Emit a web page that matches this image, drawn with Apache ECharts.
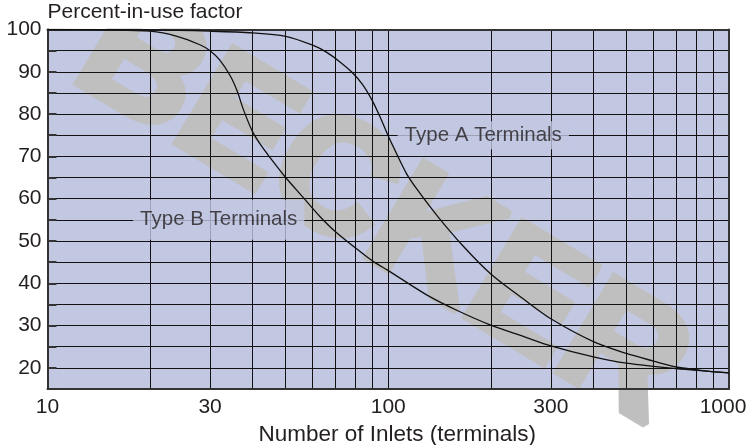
<!DOCTYPE html>
<html>
<head>
<meta charset="utf-8">
<script src="https://cdn.jsdelivr.net/npm/echarts@6/dist/echarts.min.js"></script>
<style>
  html, body { margin: 0; padding: 0; background: #ffffff; }
  #chart { width: 750px; height: 445px; }
</style>
</head>
<body>
<div id="chart"></div>
<script>
// Percent-in-use factor versus number of inlets
const typeAInlets = [10, 20, 30, 40, 50, 60, 66, 72, 78, 84, 90, 95, 100, 106, 113, 122, 140, 165, 200, 250, 300, 400, 500, 600, 700, 850, 1000];
const typeAFactor = [100, 99.9, 99.6, 99.2, 98.4, 96.3, 94.6, 92.4, 90, 87, 83, 79, 74.8, 70.5, 66, 62, 55.7, 49, 42.2, 36.2, 31.6, 26.2, 23.4, 21.6, 20.2, 19.3, 18.8];

const typeBInlets = [10, 15, 20, 24, 28, 30, 32, 34.4, 36, 37.6, 40, 42.5, 45, 50, 56, 63, 70, 83, 91, 100, 130, 160, 200, 250, 300, 400, 500, 700, 1000];
const typeBFactor = [100, 99.9, 99.6, 98.4, 96.4, 95, 92.8, 89, 85.5, 81, 75.8, 72.4, 69.7, 65, 60.5, 55.8, 52.2, 47.4, 45, 43, 37.2, 33.5, 30.1, 27.4, 25.2, 22.6, 21.1, 19.8, 18.8];

// Curve captions and where they sit (inlets, percent)
const captionTexts = ['Type A Terminals', 'Type B Terminals'];
const captionInlets = [190, 31.8];
const captionFactor = [75, 55];

// Axis ticks
const xGridValues = [10, 20, 30, 40, 50, 60, 70, 80, 90, 100, 200, 300, 400, 500, 600, 700, 800, 900, 1000];
const xTickLabels = [10, 30, 100, 300, 1000];
const yMin = 15, yMax = 100, yStep = 5;

const zip = (xs, ys) => xs.map((x, i) => [x, ys[i]]);

const ink = '#231f20';
const plotBlue = '#c2c7e2';
const stampGrey = '#bfbfbf';
const font = 'Liberation Sans';

const chart = echarts.init(document.getElementById('chart'), null, { renderer: 'canvas' });

// Diagonal "BECKER" stamp across the chart
const stamp = {
  type: 'text',
  id: 'stamp',
  z: 1,
  silent: true,
  x: 381, y: 214,
  rotation: -31 * Math.PI / 180,
  style: {
    text: 'BECKER',
    fill: stampGrey,
    stroke: stampGrey,
    lineWidth: 8,
    lineJoin: 'miter',
    font: 'bold 160px "Liberation Sans"',
    textAlign: 'center',
    textVerticalAlign: 'middle'
  }
};

const option = {
  animation: false,
  textStyle: { fontFamily: font },
  grid: {
    left: 47.5, right: 21, top: 29.5, bottom: 56,
    containLabel: false, outerBoundsMode: 'none',
    show: true, backgroundColor: plotBlue, borderWidth: 0, z: 0
  },
  graphic: { elements: [stamp] },
  xAxis: [{
    type: 'log', logBase: 10, min: 10, max: 1000, z: 2,
    name: 'Number of Inlets (terminals)',
    nameLocation: 'middle', nameGap: 43,
    nameTextStyle: { fontSize: 22.5, color: ink, verticalAlign: 'middle', padding: [0, 0, 0, 18] },
    axisLine: { show: true, lineStyle: { color: '#333', width: 2 } },
    axisTick: { show: false, customValues: xGridValues },
    axisLabel: {
      customValues: xTickLabels, fontSize: 21, color: ink, margin: 8,
      formatter: v => {
        const n = Math.round(v);
        return n === xTickLabels[xTickLabels.length - 1] ? '{last|' + n + '}' : String(n);
      },
      rich: { last: { fontSize: 21, color: ink, padding: [0, 12, 0, 0] } }
    },
    splitLine: { show: true, lineStyle: { color: '#111', width: 1 } },
    minorSplitLine: { show: false }
  }, {
    type: 'log', logBase: 10, min: 10, max: 1000, z: 2, position: 'top',
    axisLine: { show: true, lineStyle: { color: '#333', width: 2 } },
    axisTick: { show: false }, axisLabel: { show: false }, splitLine: { show: false }
  }],
  yAxis: [{
    type: 'value', min: yMin, max: yMax, interval: yStep, z: 2,
    name: 'Percent-in-use factor',
    nameLocation: 'end', nameGap: 17,
    nameTextStyle: { fontSize: 21, color: ink, align: 'left', verticalAlign: 'middle' },
    axisLine: { show: true, lineStyle: { color: '#333', width: 2 } },
    axisTick: { show: true, inside: true, length: 9, lineStyle: { color: '#333', width: 2 } },
    axisLabel: {
      fontSize: 21, color: ink, margin: 6,
      formatter: v => (v % 10 === 0 ? String(v) : '')
    },
    splitLine: { show: true, lineStyle: { color: '#111', width: 1 } }
  }, {
    type: 'value', min: yMin, max: yMax, interval: yStep, z: 2, position: 'right',
    axisLine: { show: true, lineStyle: { color: '#333', width: 2 } },
    axisTick: { show: false }, axisLabel: { show: false }, splitLine: { show: false }
  }],
  series: [{
    name: captionTexts[0],
    type: 'line', z: 3,
    data: zip(typeAInlets, typeAFactor),
    showSymbol: false, smooth: 0.3,
    lineStyle: { color: '#111', width: 1.3 }
  }, {
    name: captionTexts[1],
    type: 'line', z: 3,
    data: zip(typeBInlets, typeBFactor),
    showSymbol: false, smooth: 0.3,
    lineStyle: { color: '#111', width: 1.3 }
  }, {
    type: 'scatter', z: 4, silent: true,
    symbol: 'circle', symbolSize: 1,
    itemStyle: { color: 'rgba(0,0,0,0)' },
    data: captionTexts.map((t, i) => ({
      value: [captionInlets[i], captionFactor[i]],
      name: t,
      label: { padding: i === 0 ? [4, 7] : [10, 7] }
    })),
    label: {
      show: true, position: 'inside',
      formatter: p => p.name,
      fontSize: 20.5, lineHeight: 20, color: ink,
      backgroundColor: plotBlue
    }
  }]
};

chart.setOption(option);

// Keep the stamp off the title strip above the plot
const plotTop = chart.convertToPixel({ gridIndex: 0 }, [10, yMax])[1];
chart.setOption({
  graphic: {
    elements: [stamp, {
      type: 'rect', id: 'titleStrip', z: 1.5, silent: true,
      shape: { x: 0, y: 0, width: chart.getWidth(), height: plotTop - 1 },
      style: { fill: '#ffffff' }
    }]
  }
});
</script>
</body>
</html>
